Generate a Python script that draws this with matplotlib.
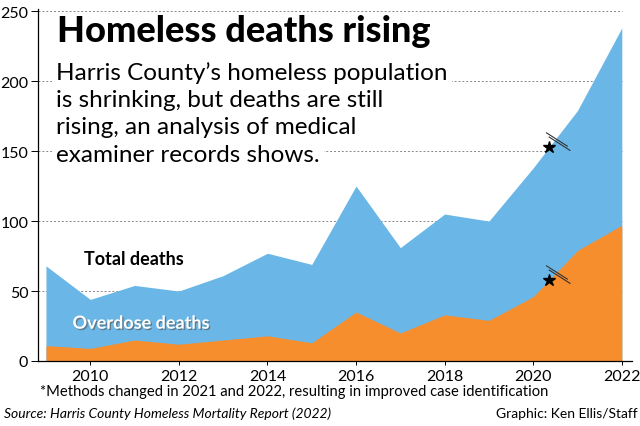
import matplotlib
matplotlib.use("Agg")
from matplotlib import pyplot as plt
import matplotlib.patheffects as pe

years = [2009, 2010, 2011, 2012, 2013, 2014, 2015, 2016, 2017, 2018, 2019, 2020, 2021, 2022]
total = [68, 44, 54, 50, 61, 77, 69, 125, 81, 105, 100, 138, 179, 238]
overdose = [11, 9, 15, 12, 15, 18, 13, 35, 20, 33, 29, 46, 79, 97]
yticks = [0, 50, 100, 150, 200, 250]
xticks = [2010, 2012, 2014, 2016, 2018, 2020, 2022]
star_year = 2020.35
star_vals = [153, 58]

narrow = ["Lato", "DejaVu Sans"]
blue = "#6ab7e7"
orange = "#f68e2e"

fig = plt.figure(figsize=(6.4, 4.27), dpi=100)
ax = fig.add_axes([38 / 640, 65 / 427, 594 / 640, 352 / 427])
ax.set_xlim(2008.82, 2022.23)
ax.set_ylim(0, 251.5)

# gridlines behind the fills
for v in yticks[1:]:
    ax.plot([2008.82, 2022], [v, v], ls=(0, (2, 2)), lw=0.7, color="#888888", zorder=0)

ax.fill_between(years, 0, total, color=blue, lw=0, zorder=1)
ax.fill_between(years, 0, overdose, color=orange, lw=0, zorder=2)

for sy in star_vals:
    ax.plot(star_year, sy, marker="*", ms=9, color="black", mec="black", zorder=5)
    for off in (0, 3):
        ax.plot([star_year - 0.05 + 0.02 * off, star_year + 0.42 + 0.02 * off],
                [sy + 10 - off, sy + 0.5 - off], color="#333333", lw=0.8, zorder=4)

for s in ["top", "right"]:
    ax.spines[s].set_visible(False)
ax.spines["left"].set_linewidth(0.9)
ax.spines["bottom"].set_linewidth(0.9)
ax.set_yticks(yticks)
ax.set_xticks(xticks)
ax.tick_params(axis="y", length=5, width=0.7, pad=2, labelsize=11.5, colors="black")
ax.tick_params(axis="x", length=3, width=0.7, pad=3, labelsize=11.5)
for lab in ax.get_xticklabels() + ax.get_yticklabels():
    lab.set_family(narrow)

# title and subtitle with white boxes hiding gridlines
fig.text(57 / 640, 1 - 31 / 427, "Homeless deaths rising", fontsize=26, fontweight="black",
         va="center", ha="left", family=["Lato", "DejaVu Sans"])
sub = ["Harris County\u2019s homeless population",
       "is shrinking, but deaths are still",
       "rising, an analysis of medical",
       "examiner records shows."]
for i, line in enumerate(sub):
    fig.text(56 / 640, 1 - (73 + 27.5 * i) / 427, line, fontsize=17.5, fontweight="normal",
             va="center", ha="left", family=["Lato", "DejaVu Sans"],
             bbox=dict(facecolor="white", edgecolor="none", pad=3), zorder=3)

ax.text(2009.85, 73, "Total deaths", fontsize=13, fontweight="bold", family=narrow,
        ha="left", va="center", zorder=6)
ax.text(2009.6, 27, "Overdose deaths", fontsize=13, fontweight="bold", family=narrow,
        color="white", ha="left", va="center", zorder=6,
        path_effects=[pe.withSimplePatchShadow(offset=(1, -1), shadow_rgbFace="#555555", alpha=0.6)])

fig.text(40 / 640, 1 - 392 / 427, "*Methods changed in 2021 and 2022, resulting in improved case identification",
         fontsize=10.6, family=narrow, va="center", ha="left")
fig.text(4 / 640, 1 - 414 / 427, "Source: Harris County Homeless Mortality Report (2022)",
         fontsize=10, style="italic", family=narrow, va="center", ha="left")
fig.text(638 / 640, 1 - 414 / 427, "Graphic: Ken Ellis/Staff",
         fontsize=10, family=narrow, va="center", ha="right")

fig.savefig("out.png", dpi=100)
